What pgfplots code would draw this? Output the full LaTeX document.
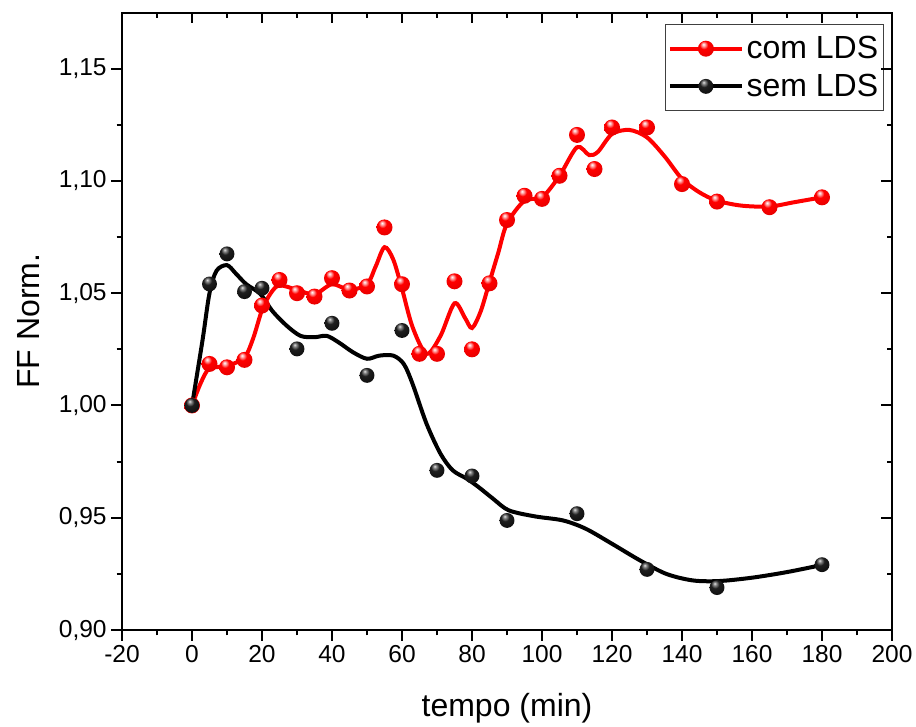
\documentclass[border=0pt]{standalone}
\usepackage{fontspec}
\setmainfont{Liberation Sans}
\usepackage{pgfplots}
\usepackage{pgfplotstable}
\pgfplotsset{compat=1.18}

\pgfplotstableread{
x y
0 1.000
5 1.0185
10 1.0170
15 1.0203
20 1.0445
25 1.0559
30 1.0500
35 1.0485
40 1.0567
45 1.0512
50 1.0530
55 1.0793
60 1.0540
65 1.0230
70 1.0230
75 1.0553
80 1.0250
85 1.0544
90 1.0826
95 1.0934
100 1.0920
105 1.1023
110 1.1205
115 1.1053
120 1.1238
130 1.1238
140 1.0986
150 1.0908
165 1.0883
180 1.0927
}\comdata

\pgfplotstableread{
x y
0 1.000
5 1.0541
10 1.0675
15 1.0507
20 1.0522
30 1.0252
40 1.0366
50 1.0134
60 1.0334
70 0.9711
80 0.9686
90 0.9488
110 0.9518
130 0.9270
150 0.9189
180 0.9291
}\semdata

\pgfplotstableread{
x y
0 1.000
2.5 1.010
5 1.0165
10 1.0175
15 1.0215
17.5 1.030
20 1.0425
22.5 1.050
25 1.0535
30 1.0515
35 1.0495
40 1.054
45 1.0515
50 1.054
52.5 1.062
55 1.0705
57.5 1.065
60 1.052
63 1.035
67 1.023
71 1.031
75 1.0455
78 1.039
80 1.0345
82.5 1.042
85 1.055
87.5 1.068
90 1.081
95 1.0912
100 1.0927
105 1.1023
110 1.115
113.5 1.1115
116 1.113
120 1.1209
125 1.1227
130 1.1194
135 1.111
140 1.1009
145 1.0949
150 1.0912
157 1.089
165 1.0886
172 1.0905
180 1.0927
}\comfit

\pgfplotstableread{
x y
0 1.000
3 1.029
5 1.050
7 1.060
10 1.0625
12.5 1.0588
15.5 1.054
19.5 1.0497
23 1.042
27 1.0356
31 1.031
35 1.0304
38.5 1.031
42 1.028
46 1.0237
50 1.0208
53.5 1.0222
57.5 1.0222
60.5 1.0185
63 1.0097
67 0.9919
71 0.9785
74.5 0.9711
78.5 0.9674
82 0.9635
86 0.9585
90.5 0.9533
98 0.9506
106 0.9488
112.5 0.9451
120 0.9384
128 0.931
135.5 0.925
143 0.9221
150.5 0.9218
160 0.9233
170 0.9258
179.5 0.9288
}\semfit

\pgfdeclareradialshading{redballshade}{\pgfqpoint{-8bp}{14bp}}{%
  color(0bp)=(white); color(5bp)=(red!35!white); color(13bp)=(red);
  color(30bp)=(red!92!black); color(50bp)=(red!70!black); color(70bp)=(red!60!black)}
\pgfdeclareradialshading{blackballshade}{\pgfqpoint{-8bp}{14bp}}{%
  color(0bp)=(white!90!black); color(5bp)=(black!45); color(14bp)=(black!88);
  color(50bp)=(black); color(70bp)=(black)}
\pgfdeclareplotmark{redball}{%
  \pgfpathcircle{\pgfpointorigin}{\pgfplotmarksize}%
  \pgfshadepath{redballshade}{0}%
  \pgfusepath{}}
\pgfdeclareplotmark{blackball}{%
  \pgfpathcircle{\pgfpointorigin}{\pgfplotmarksize}%
  \pgfshadepath{blackballshade}{0}%
  \pgfusepath{}}

\pgfplotsset{
  lineball/.style={legend image code/.code={%
     \draw[#1, line width=3pt] (0pt,0pt) -- (54pt,0pt);
     \draw[##1, mark repeat=2, mark phase=2] plot coordinates {(0pt,0pt) (27pt,0pt) (54pt,0pt)};}},
  common/.style={
    scale only axis, width=577.5pt, height=463.1pt,
    xmin=-20, xmax=200, ymin=0.9, ymax=1.175,
    xtick={-20,0,20,40,60,80,100,120,140,160,180,200},
    ytick={0.9,0.95,1,1.05,1.1,1.15},
    minor x tick num=1, minor y tick num=1,
    axis line style={line width=1.5pt},
    major tick style={line width=1.5pt, black},
    minor tick style={line width=1.5pt, black},
    major tick length=8pt, minor tick length=4pt,
    scaled y ticks=false,
  }
}

\begin{document}
\begin{tikzpicture}
\begin{axis}[common, name=main,
  tick align=outside, tick pos=left,
  /pgf/number format/assume math mode=true,
  tick label style={font=\fontsize{18.4}{22}\selectfont},
  yticklabel style={/pgf/number format/fixed, /pgf/number format/fixed zerofill,
     /pgf/number format/precision=2, /pgf/number format/use comma},
  label style={font=\fontsize{24}{28}\selectfont},
  xlabel={tempo (min)}, ylabel={FF Norm.},
  xlabel style={at={(axis description cs:0.5,-0.1393)}, anchor=base},
  ylabel style={at={(axis description cs:-0.1074,0.5)}, anchor=base},
  legend style={at={(axis description cs:0.9896,0.9814)}, anchor=north east,
     draw=black!75, line width=0.75pt, font=\fontsize{24}{28}\selectfont,
     inner xsep=2pt, inner ysep=7pt, row sep=6pt},
  legend cell align=left,
]
\addplot[red, line width=3pt, smooth, tension=0.5, forget plot] table {\comfit};
\addplot[black, line width=3pt, smooth, tension=0.5, forget plot] table {\semfit};
\addplot[only marks, mark=redball, mark size=6pt, lineball=red]
  table {\comdata};
\addlegendentry{com LDS}
\addplot[only marks, mark=blackball, mark size=5.6pt, lineball=black]
  table {\semdata};
\addlegendentry{sem LDS}
\end{axis}
\begin{axis}[common, at={(main.south west)}, anchor=south west,
  tick align=inside, tick pos=right, xticklabels={}, yticklabels={}]
\end{axis}
\pgfresetboundingbox
\path ([shift={(-91.5pt,-72pt)}]main.south west) rectangle ([shift={(595.5pt,472.5pt)}]main.south west);
\end{tikzpicture}
\end{document}
